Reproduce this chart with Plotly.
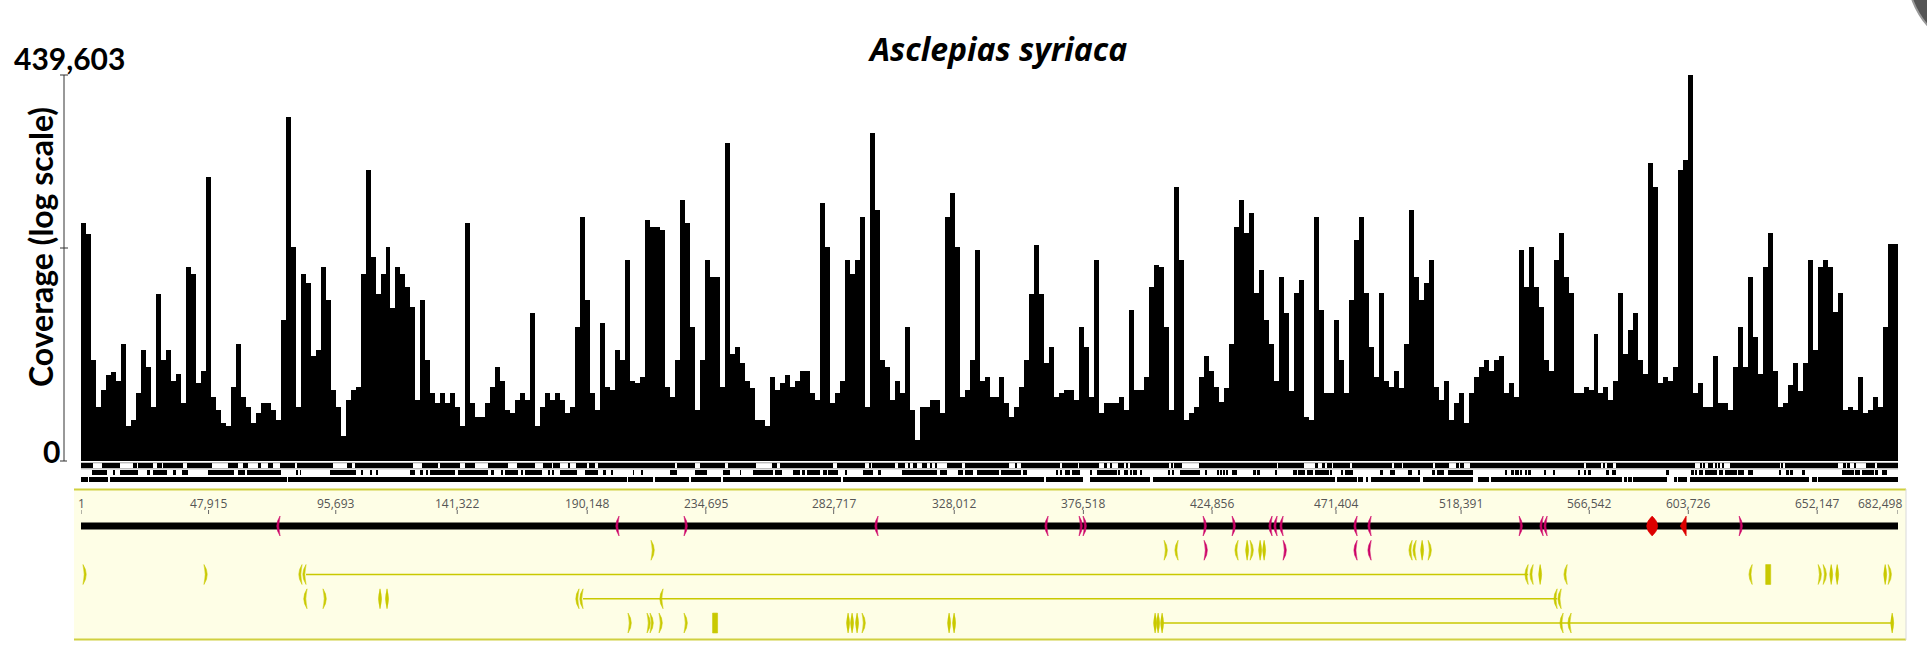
import math
import plotly.graph_objects as go

# ---------------- data ----------------
GENOME_LENGTH = 682498
COVERAGE_MAX = 439603

# read-depth per genome bin (364 equal bins across the genome)
coverage = [
    3000, 2100, 30, 6.2, 11, 18, 20, 15, 52, 3.2,
    4.0, 10, 42, 24, 6.2, 280, 30, 42, 15, 19,
    7.0, 690, 550, 14, 21, 14000, 8.7, 5.6, 3.6, 3.2,
    12, 52, 8.7, 6.2, 3.6, 5.0, 7.0, 7.0, 5.6, 4.0,
    115, 108000, 1360, 6.2, 550, 400, 34, 42, 690, 226,
    11, 6.2, 2.3, 7.8, 11, 12, 550, 17900, 970, 280,
    550, 1360, 170, 690, 550, 354, 180, 7.8, 226, 30,
    10, 7.0, 10, 7.0, 10, 6.2, 3.2, 3000, 7.0, 4.4,
    4.4, 7.0, 12, 24, 15, 5.6, 5.0, 7.8, 10, 7.8,
    144,
    3.2, 6.2, 10, 7.8, 10, 7.8, 5.0, 6.2, 92, 3730,
    226, 10, 5.6, 103, 12, 11, 42, 30, 870, 15,
    14, 17, 3330, 2660, 2660, 2380, 12, 8.7, 30, 6530,
    3000, 92, 5.6, 30, 870, 495, 495, 12, 44000, 37,
    47, 27, 15, 11.5, 4.0, 4.0, 3.2, 17, 11, 14,
    18, 12, 15, 21, 21, 10, 7.8, 5840, 1360, 7.0,
    10, 15, 870, 550, 870, 3730, 6.2, 61700, 4670, 30,
    24, 7.8, 15, 10, 92, 5.6, 2.0, 6.2, 6.2, 7.8,
    7.8, 5.0, 3730, 8180, 1360, 8.7, 11, 30, 1210, 15,
    17,
    8.7, 8.7, 17, 7.0, 4.4, 6.2, 12, 30, 280, 1440,
    280, 27, 47, 8.7, 10, 11, 11, 7.8, 92, 47,
    8.7, 870, 5.0, 7.0, 7.0, 7.0, 8.7, 5.6, 161, 11,
    11, 17, 354, 733, 693, 92, 5.6, 10200, 870, 4.0,
    5.0, 6.2, 17, 34, 21, 12, 7.4, 11.5, 52, 2660,
    6530, 2130, 4170, 283, 620, 115, 52, 15, 495, 144,
    10.5, 283, 443, 4.4, 4.0, 3730, 161, 10, 10, 115,
    30, 10, 226, 1700, 3730, 283, 47, 17, 283, 15,
    12, 21, 11.5, 52, 4670, 495, 226, 396, 867, 12,
    7.8,
    15, 4.0, 7.0, 10, 3.6, 10, 17, 24, 30, 21,
    30, 34, 10, 14, 8.7, 1210, 354, 1360, 354, 180,
    30, 21, 867, 2130, 495, 283, 10, 10, 12, 11,
    73, 10, 12, 7.8, 15, 283, 37, 82, 144, 30,
    19, 22400, 10200, 14, 17, 15, 24, 17900, 25100, 439603,
    10, 14, 6.2, 6.2, 34, 7.0, 7.0, 5.6, 24, 92,
    24, 495, 66, 19, 693, 2130, 21, 6.2, 7.0, 13,
    27, 10.5, 27, 867, 42, 693, 867, 693, 150, 283,
    5.6, 6.2, 5.6, 17, 5.0, 5.6, 8.7, 6.2, 92, 1500,
    1500,
]

position_ticks = [1, 47915, 95693, 141322, 190148, 234695, 282717, 328012,
                  376518, 424856, 471404, 518391, 566542, 603726, 652147, 682498]
position_labels = ["1", "47,915", "95,693", "141,322", "190,148", "234,695", "282,717",
                   "328,012", "376,518", "424,856", "471,404", "518,391", "566,542",
                   "603,726", "652,147", "682,498"]

# ORF / reading-frame tracks under the coverage plot (start, end) in kb
orf_row1_kb = [
    (0, 4.6), (7.8, 14.7), (19.6, 20.9), (21.5, 27.2), (28.4, 30.3), (30.9, 38.4), (39.7, 49.1),
    (55.3, 59.1), (61.0, 62.9), (66.6, 67.5), (70.4, 72.2), (74.8, 80.4), (81.0, 94.8),
    (99.8, 101.7), (102.9, 124.8), (128.0, 134.2), (134.9, 142.4), (144.3, 148.0), (153.0, 160.5),
    (163.7, 170.6), (173.7, 176.8), (177.4, 179.9), (183.1, 183.7), (186.0, 190.2), (191.0, 193.1),
    (194.3, 223.1), (223.8, 230.7), (232.5, 241.9), (243.2, 253.6), (259.5, 261.6), (262.6, 282.6),
    (283.9, 294.5), (296.1, 296.4), (297.0, 305.8), (307.0, 309.6), (310.8, 311.4), (312.7, 313.9),
    (315.8, 317.7), (318.9, 319.6), (320.8, 321.5), (325.2, 330.8), (332.1, 348.4), (350.9, 351.7),
    (353.1, 367.8), (368.4, 374.4), (375.0, 382.2), (384.4, 385.3), (386.6, 387.2), (389.4, 391.6),
    (392.8, 393.4), (394.1, 408.5), (409.5, 410.2), (410.7, 413.5), (419.8, 449.1), (449.8, 459.2),
    (463.5, 464.8), (466.1, 467.3), (467.9, 469.8), (470.4, 476.7), (477.3, 492.4), (493.3, 496.1),
    (496.7, 508.0), (508.6, 514.0), (516.5, 517.5), (518.1, 519.6), (521.8, 564.6), (565.3, 571.0),
    (571.9, 572.5), (573.1, 575.6), (576.5, 606.3), (608.2, 608.8), (609.4, 610.0), (611.3, 611.9),
    (612.2, 612.9), (613.8, 614.4), (615.0, 615.6), (616.3, 617.2), (619.3, 638.0), (638.7, 639.3),
    (640.0, 660.0), (661.9, 662.8), (663.4, 664.4), (665.9, 666.7), (670.5, 673.7), (674.7, 682.5),
]
orf_row2_kb = [
    (4.0, 9.7), (12.1, 12.8), (14.7, 21.5), (24.7, 25.9), (27.2, 32.2), (34.9, 35.6), (37.8, 40.1),
    (47.8, 57.6), (59.1, 61.6), (62.3, 75.1), (81.0, 81.4), (82.3, 82.6), (93.5, 103.2),
    (105.4, 106.0), (108.6, 109.2), (111.1, 111.7), (123.6, 125.5), (127.4, 128.6), (129.9, 130.5),
    (131.1, 140.5), (141.7, 152.8), (154.0, 155.3), (157.8, 158.3), (159.3, 164.3), (165.6, 166.2),
    (166.8, 173.1), (175.5, 176.2), (176.8, 177.7), (179.9, 186.2), (189.3, 194.3), (196.2, 197.2),
    (199.4, 200.0), (207.5, 207.7), (210.6, 210.9), (221.3, 223.8), (230.7, 235.1), (241.3, 243.8),
    (247.6, 247.8), (252.3, 260.1), (260.7, 263.2), (267.6, 270.1), (270.7, 272.0), (272.6, 277.6),
    (278.6, 280.1), (280.7, 284.5), (287.0, 287.6), (293.9, 297.6), (299.5, 300.4), (308.3, 321.4),
    (322.7, 325.2), (329.6, 331.4), (332.1, 335.2), (336.5, 345.0), (345.6, 353.1), (354.0, 354.4),
    (354.6, 355.0), (366.5, 367.1), (367.8, 368.4), (369.7, 371.5), (372.4, 375.3), (379.0, 379.4),
    (381.6, 389.1), (389.7, 390.3), (391.9, 393.4), (394.1, 394.7), (395.3, 396.6), (397.8, 398.4),
    (408.5, 409.2), (409.7, 410.5), (412.8, 420.4), (422.5, 422.9), (427.0, 427.2), (427.9, 428.5),
    (429.1, 429.8), (430.4, 431.0), (432.3, 434.2), (440.4, 441.3), (441.7, 442.9), (448.5, 449.2),
    (455.4, 456.7), (457.3, 459.8), (460.4, 462.9), (463.6, 468.6), (469.2, 469.8), (473.3, 473.8),
    (474.8, 477.9), (488.0, 489.2), (491.7, 493.6), (498.6, 499.9), (502.4, 503.0), (507.4, 508.6),
    (509.3, 511.8), (513.6, 522.8), (534.9, 535.3), (537.5, 538.1), (538.7, 540.0), (540.6, 541.2),
    (542.5, 543.1), (543.7, 544.6), (549.6, 550.3), (552.8, 553.7), (562.5, 563.1), (564.6, 565.4),
    (566.2, 567.1), (572.8, 573.8), (575.1, 576.7), (595.4, 596.3), (604.7, 605.7), (606.3, 606.9),
    (607.6, 609.4), (610.0, 614.4), (615.1, 616.9), (617.6, 622.0), (622.4, 624.5), (626.1, 628.2),
    (638.0, 638.5), (640.8, 641.4), (642.0, 643.0), (646.8, 647.5), (661.4, 665.8), (666.4, 668.3),
    (668.9, 673.3), (673.9, 674.8), (676.5, 678.4),
]
orf_row3_kb = [
    (0, 2.5), (3.0, 10.3), (10.9, 77.3), (77.9, 205.0), (205.6, 215.0), (215.6, 228.5),
    (229.0, 240.4), (241.1, 285.4), (286.1, 361.9), (362.4, 376.5), (379.0, 401.6), (402.8, 471.1),
    (471.7, 479.2), (479.8, 481.7), (482.7, 483.6), (484.5, 503.0), (504.2, 523.0), (524.9, 528.7),
    (529.6, 578.8), (579.4, 580.6), (581.2, 582.5), (583.1, 595.7), (598.2, 599.5), (599.7, 603.2),
    (604.4, 648.9), (650.1, 652.0), (652.6, 682.5),
]

# annotated features: position (bp) and mark shape ( ")" forward, "(" reverse, "|" both, "B" block )
backbone_pos = [74756, 202105, 226523, 299401, 363263, 374909, 376411, 421491, 432385,
                447411, 449289, 451543, 479342, 484601, 540199, 549215, 550718, 622844]
backbone_mark = ["(", "(", ")", "(", "(", ")", ")", ")", ")",
                 "(", "(", "(", "(", "(", ")", "(", "(", ")"]
backbone_red_lens = [590162]
backbone_red_arrow = [602183]

row1_yellow_pos = [214126, 406840, 412099, 434639, 438020, 439147, 442903, 444406,
                   500003, 501506, 503760, 506014]
row1_yellow_mark = [")", ")", "(", "(", "|", ")", "|", "|", "(", "(", "|", ")"]
row1_magenta_pos = [421866, 451543, 479342, 484601]
row1_magenta_mark = [")", ")", "(", "("]

row2_pos = [751, 46206, 83021, 84524, 543580, 545458, 548088, 558231, 627728, 633738,
            652521, 654400, 657405, 659659, 677691, 678818]
row2_mark = [")", ")", "(", "(", "(", "(", "|", "(", "(", "B", ")", ")", "|", "|", "|", ")"]
row2_span = [84524, 543580]

row3_pos = [84899, 90910, 112322, 114952, 187079, 188581, 218634, 554474, 555977]
row3_mark = ["(", ")", "|", "|", "(", "(", "(", "(", "("]
row3_span = [188581, 554474]

row4_pos = [205486, 212624, 213751, 217131, 226523, 238168, 288131, 289634, 291512, 293390,
            326073, 327951, 403459, 404586, 406088, 556728, 559733, 680320]
row4_mark = [")", ")", ")", ")", ")", "B", "|", "|", "|", ")", "|", "|", "|", "|", "|",
             "(", "(", "|"]
row4_span = [406088, 680320]

# ---------------- layout helpers ----------------
W, H = 1927, 664
L, R = 81, 29
PLOT_W = W - L - R
BP_PER_PX = GENOME_LENGTH / PLOT_W


def py(Y):
    return 1 - Y / H


def px(X):
    return (X - L) / PLOT_W


BIN = GENOME_LENGTH / len(coverage)
YELLOW = "#C9C900"
MAGENTA = "#CC0066"
RED = "#DD0000"
MARK_H = 0.41  # half height of a feature mark in y2 units (~10 px)

fig = go.Figure()

# coverage
fig.add_trace(go.Bar(
    x=[(i + 0.5) * BIN for i in range(len(coverage))], y=coverage, width=BIN,
    marker=dict(color="black", line=dict(width=0)),
    xaxis="x", yaxis="y", hoverinfo="skip",
))

# ORF rows
orf_rows = [orf_row1_kb, orf_row2_kb, orf_row3_kb]
bx, bb, byy = [], [], []
for r, segs in enumerate(orf_rows):
    for a, b in segs:
        bb.append(a * 1000)
        bx.append((b - a) * 1000)
        byy.append(r)
fig.add_trace(go.Bar(
    x=bx, base=bb, y=byy, orientation="h", width=0.72,
    marker=dict(color="black", line=dict(width=0)),
    xaxis="x", yaxis="y3", hoverinfo="skip",
))

# feature spans (thin connecting lines)
for row, span in [(2, row2_span), (3, row3_span), (4, row4_span)]:
    fig.add_trace(go.Scatter(
        x=span, y=[row, row], mode="lines", line=dict(color=YELLOW, width=1.5),
        xaxis="x", yaxis="y2", hoverinfo="skip", cliponaxis=False,
    ))

shapes = []


def mark_shape(x, row, kind, color):
    h = MARK_H
    if kind == "B":
        d = 2.5 * BP_PER_PX
        path = (f"M {x - d},{row - h} L {x + d},{row - h} L {x + d},{row + h} "
                f"L {x - d},{row + h} Z")
    else:
        if kind == ")":
            c1, c2 = 6.5, 2.5
        elif kind == "(":
            c1, c2 = -6.5, -2.5
        elif kind == "L":  # large lens
            c1, c2 = 11, -11
        else:
            c1, c2 = 3, -3
        c1 *= BP_PER_PX
        c2 *= BP_PER_PX
        path = (f"M {x},{row - h} Q {x + c1},{row} {x},{row + h} "
                f"Q {x + c2},{row} {x},{row - h} Z")
    return dict(type="path", xref="x", yref="y2", path=path, fillcolor=color,
                line=dict(color=color, width=0.6))


def arrow_shape(x, row, color):
    h = MARK_H
    a = 4 * BP_PER_PX
    b = 2 * BP_PER_PX
    path = f"M {x - a},{row} L {x + b},{row - h} L {x + b},{row + h} Z"
    return dict(type="path", xref="x", yref="y2", path=path, fillcolor=color,
                line=dict(color=color, width=0.6))


# annotation panel background
shapes.append(dict(type="rect", xref="paper", yref="paper", x0=px(74), x1=px(1906),
                   y0=py(640), y1=py(489), fillcolor="#FEFEE6", line=dict(width=0), layer="below"))
shapes.append(dict(type="line", xref="paper", yref="paper", x0=px(74), x1=px(1906),
                   y0=py(489.5), y1=py(489.5), line=dict(color="#D0D040", width=2), layer="below"))
shapes.append(dict(type="line", xref="paper", yref="paper", x0=px(74), x1=px(1906),
                   y0=py(639.5), y1=py(639.5), line=dict(color="#D0D040", width=2), layer="below"))
shapes.append(dict(type="line", xref="paper", yref="paper", x0=px(1906), x1=px(1906),
                   y0=py(640), y1=py(489), line=dict(color="#DADADA", width=1), layer="below"))
# backbone
shapes.append(dict(type="line", xref="x", yref="paper", x0=1, x1=GENOME_LENGTH,
                   y0=py(526), y1=py(526), line=dict(color="black", width=7), layer="below"))
# ORF row 1 outline
for Y in (462.8, 468.8):
    shapes.append(dict(type="line", xref="x", yref="paper", x0=1, x1=GENOME_LENGTH,
                       y0=py(Y), y1=py(Y), line=dict(color="#A0A0A0", width=1), layer="below"))
# tick marks
for t in position_ticks:
    shapes.append(dict(type="line", xref="x", yref="paper", x0=t, x1=t,
                       y0=py(510), y1=py(514), line=dict(color="#666666", width=1)))

# feature marks
for pos_list, mark_list, row, color in [
    (backbone_pos, backbone_mark, 0, MAGENTA),
    (row1_yellow_pos, row1_yellow_mark, 1, YELLOW),
    (row1_magenta_pos, row1_magenta_mark, 1, MAGENTA),
    (row2_pos, row2_mark, 2, YELLOW),
    (row3_pos, row3_mark, 3, YELLOW),
    (row4_pos, row4_mark, 4, YELLOW),
]:
    for p, m in zip(pos_list, mark_list):
        shapes.append(mark_shape(p, row, m, color))
for p in backbone_red_lens:
    shapes.append(mark_shape(p, 0, "L", RED))
for p in backbone_red_arrow:
    shapes.append(arrow_shape(p, 0, RED))

# coverage axis line with caps
ax_x = px(64)
shapes.append(dict(type="line", xref="paper", yref="paper", x0=ax_x, x1=ax_x,
                   y0=py(461), y1=py(75), line=dict(color="#333333", width=1)))
for Y, a, b in [(75, 60, 68), (248, 60, 68), (461, 60, 67)]:
    shapes.append(dict(type="line", xref="paper", yref="paper", x0=px(a), x1=px(b),
                       y0=py(Y), y1=py(Y), line=dict(color="#333333", width=1)))
# corner artefact
shapes.append(dict(type="circle", xref="paper", yref="paper", x0=px(1907), x1=px(2077),
                   y0=py(55), y1=py(-115), fillcolor="#555555", line=dict(color="#999999", width=2)))

annotations = []
for t, lab in zip(position_ticks, position_labels):
    last = t == position_ticks[-1]
    annotations.append(dict(
        x=t, y=py(503), xref="x", yref="paper", text=lab, showarrow=False,
        xanchor="right" if last else "center", xshift=6 if last else 0, yanchor="middle",
        font=dict(family="Open Sans", size=12, color="#555555"),
    ))
annotations.append(dict(x=px(997), y=py(48), xref="paper", yref="paper",
                        text="<b><i>Asclepias syriaca</i></b>", showarrow=False,
                        xanchor="center", yanchor="middle",
                        font=dict(family="Open Sans", size=32, color="black")))
annotations.append(dict(x=px(69), y=py(58), xref="paper", yref="paper",
                        text="<b>439,603</b>", showarrow=False, xanchor="center", yanchor="middle",
                        font=dict(family="Lato", size=30, color="black")))
annotations.append(dict(x=px(51), y=py(451), xref="paper", yref="paper",
                        text="<b>0</b>", showarrow=False, xanchor="center", yanchor="middle",
                        font=dict(family="Lato", size=30, color="black")))
annotations.append(dict(x=px(41), y=py(247), xref="paper", yref="paper",
                        text="<b>Coverage (log scale)</b>", showarrow=False, textangle=-90,
                        xanchor="center", yanchor="middle",
                        font=dict(family="Lato", size=32, color="black")))

fig.update_layout(
    width=W, height=H, margin=dict(l=L, r=R, t=0, b=0),
    paper_bgcolor="white", plot_bgcolor="rgba(0,0,0,0)",
    showlegend=False, barmode="overlay", bargap=0,
    xaxis=dict(range=[1, GENOME_LENGTH], domain=[0, 1], visible=False, anchor="y"),
    yaxis=dict(type="log", range=[0, math.log10(COVERAGE_MAX)], domain=[py(461), py(75)],
               visible=False, anchor="x"),
    yaxis2=dict(range=[4.70, -1.526], domain=[py(640), py(489)], visible=False, anchor="x"),
    yaxis3=dict(range=[2.5, -0.5], domain=[py(483), py(462)], visible=False, anchor="x"),
    shapes=shapes, annotations=annotations,
)

fig.write_html(
    "out.html",
    config={"displayModeBar": False},
    post_script="document.body.style.margin='0px';document.body.style.overflow='hidden';",
)
